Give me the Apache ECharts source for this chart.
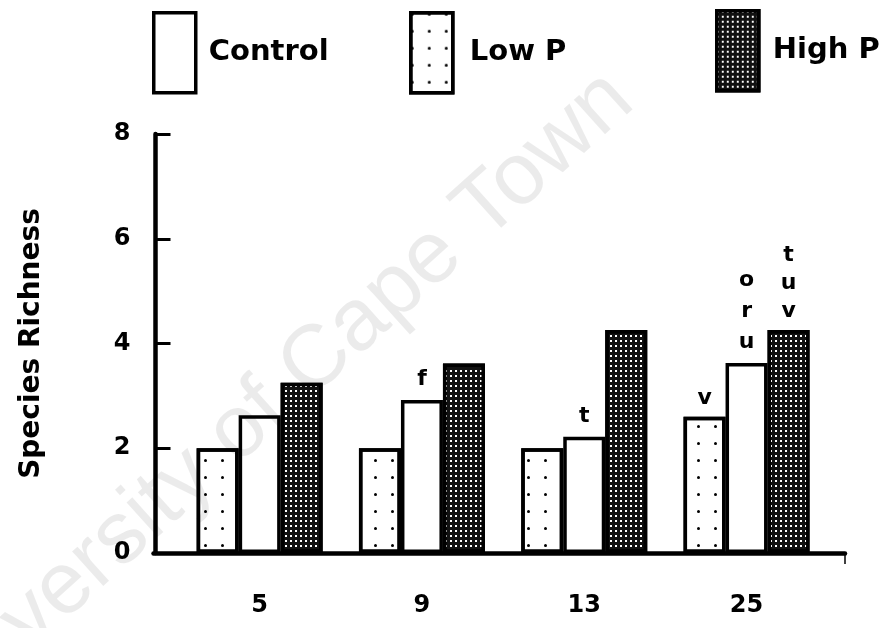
<!DOCTYPE html>
<html>
<head>
<meta charset="utf-8">
<script src="https://cdn.jsdelivr.net/npm/echarts@6/dist/echarts.min.js"></script>
<style>
  html, body { margin: 0; padding: 0; background: #fff; }
  #chart { width: 892px; height: 628px; }
</style>
</head>
<body>
<div id="chart"></div>
<script>
// ---- data ----
const categories = ['5', '9', '13', '25'];
const seriesNames = ['Low P', 'Control', 'High P'];
const legendOrder = ['Control', 'Low P', 'High P'];
const lowP = [2.0, 2.0, 2.0, 2.6];
const control = [2.63, 2.92, 2.22, 3.63];
const highP = [3.25, 3.62, 4.26, 4.26];
const lowLabels = ['', '', '', 'v'];
const controlLabels = ['', 'f', 't', 'o\nr\nu'];
const highLabels = ['', '', '', 't\nu\nv'];
const yTicks = [0, 2, 4, 6, 8];
const yTitle = 'Species Richness';
const watermark = 'University of Cape Town';

// ---- styles ----
const FONT = 'DejaVu Sans';
const border = { borderColor: '#000', borderWidth: 3.5 };
const labelBase = { show: true, position: 'top', distance: 5, color: '#000', fontFamily: FONT, fontWeight: 'bold', fontSize: 22 };

const lowDecal = { symbol: 'circle', symbolSize: 1, color: '#000', dashArrayX: [3, 14], dashArrayY: [3, 14] };
const highDecal = { symbol: 'rect', symbolSize: 1, color: '#fff', dashArrayX: [1.8, 3], dashArrayY: [1.8, 3] };

const legendCommon = {
  icon: 'rect', itemWidth: 42, itemHeight: 80, padding: 0, selectedMode: false,
  itemStyle: { borderColor: '#000', borderWidth: 3.5 }
};
function legendText(pad) {
  return { fontSize: 29, fontWeight: 'bold', fontFamily: FONT, color: '#000', padding: [0, 0, 0, pad] };
}

const chart = echarts.init(document.getElementById('chart'));
chart.setOption({
  backgroundColor: '#fff',
  animation: false,
  legend: [
    Object.assign({}, legendCommon, { data: [legendOrder[0]], left: 152, top: 11, textStyle: legendText(8) }),
    Object.assign({}, legendCommon, { data: [legendOrder[1]], left: 409, top: 11, textStyle: legendText(12) }),
    Object.assign({}, legendCommon, { data: [legendOrder[2]], left: 715, top: 9, textStyle: legendText(9) })
  ],
  grid: [
    { left: 178.5, right: 64.3, top: 134, bottom: 75 },
    { left: 153.5, right: 47, top: 134, bottom: 75 }
  ],
  xAxis: [
    {
      type: 'category', data: categories, gridIndex: 0,
      axisLine: { show: false }, axisTick: { show: false },
      axisLabel: { margin: 41, color: '#000', fontFamily: FONT, fontWeight: 'bold', fontSize: 24 }
    },
    {
      type: 'value', gridIndex: 1, min: 0, max: 1,
      axisLine: { show: true, lineStyle: { color: '#000', width: 4.5 } },
      axisTick: { show: true, customValues: [1], length: 11, lineStyle: { color: '#000', width: 1.5 } },
      axisLabel: { show: false }, splitLine: { show: false }
    }
  ],
  yAxis: [
    {
      type: 'value', gridIndex: 0, min: yTicks[0], max: yTicks[yTicks.length - 1], interval: 2,
      offset: 23,
      name: yTitle, nameLocation: 'middle', nameGap: 110,
      nameTextStyle: { fontFamily: FONT, fontWeight: 'bold', fontSize: 28, color: '#000' },
      axisLine: { show: true, lineStyle: { color: '#000', width: 4.5 } },
      axisTick: { show: true, inside: true, length: 15, lineStyle: { color: '#000', width: 3 } },
      axisLabel: { margin: 25, color: '#000', fontFamily: FONT, fontWeight: 'bold', fontSize: 24 },
      splitLine: { show: false }
    },
    { type: 'value', gridIndex: 1, min: 0, max: 8, show: false }
  ],
  series: [
    {
      name: seriesNames[0], type: 'bar', data: lowP, barWidth: 42, barGap: '0%',
      itemStyle: Object.assign({ color: '#fff', decal: lowDecal }, border),
      label: Object.assign({}, labelBase, { lineHeight: 28, formatter: p => lowLabels[p.dataIndex] })
    },
    {
      name: seriesNames[1], type: 'bar', data: control, barWidth: 42, barGap: '0%',
      itemStyle: Object.assign({ color: '#fff' }, border),
      label: Object.assign({}, labelBase, { lineHeight: 31, formatter: p => controlLabels[p.dataIndex] })
    },
    {
      name: seriesNames[2], type: 'bar', data: highP, barWidth: 42, barGap: '0%',
      itemStyle: Object.assign({ color: '#111', decal: highDecal }, border),
      label: Object.assign({}, labelBase, { lineHeight: 28, formatter: p => highLabels[p.dataIndex] })
    }
  ],
  graphic: [
    {
      type: 'text', x: 268, y: 405, rotation: 42 * Math.PI / 180, z: 100, silent: true,
      style: { text: watermark, fontSize: 88, fontFamily: 'Liberation Sans', fill: 'rgba(0,0,0,0.08)', align: 'center', verticalAlign: 'middle' }
    }
  ]
});
</script>
</body>
</html>
